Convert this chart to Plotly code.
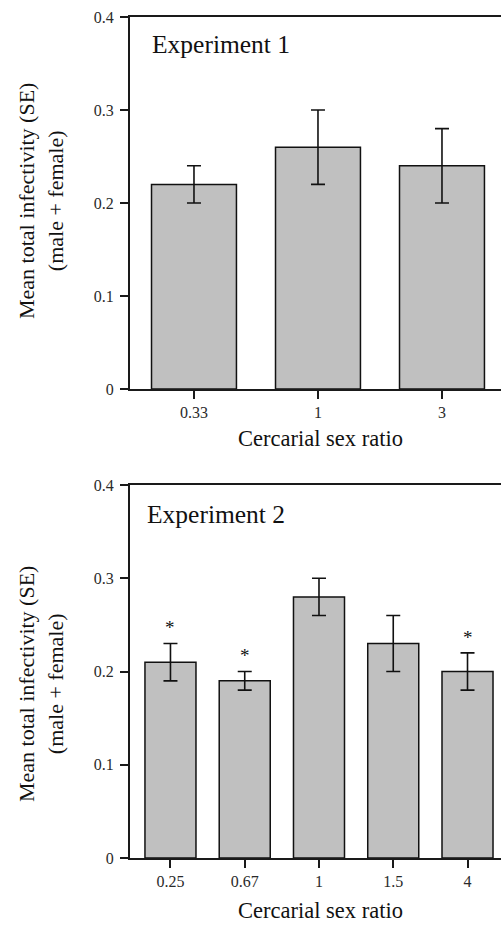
import plotly.graph_objects as go

# ---- data ----
exp1_ratio = ["0.33", "1", "3"]
exp1_mean = [0.22, 0.26, 0.24]
exp1_se = [0.02, 0.04, 0.04]

exp2_ratio = ["0.25", "0.67", "1", "1.5", "4"]
exp2_mean = [0.21, 0.19, 0.28, 0.23, 0.20]
exp2_se = [0.02, 0.01, 0.02, 0.03, 0.02]
exp2_signif = [True, True, False, False, True]

y_tickvals = [0, 0.1, 0.2, 0.3, 0.4]
y_ticktext = ["0", "0.1", "0.2", "0.3", "0.4"]

W, H = 501, 926
FONT = "Liberation Serif, Times New Roman, serif"
BAR_FILL = "#c0c0c0"
AX = "#1a1a1a"
TXT = "#111111"

fig = go.Figure()

fig.add_trace(go.Bar(
    x=exp1_ratio, y=exp1_mean, width=0.685,
    marker=dict(color=BAR_FILL, line=dict(color="#111111", width=1.5)),
    error_y=dict(type="data", array=exp1_se, symmetric=True, color="#111111",
                 thickness=1.6, width=7),
    xaxis="x", yaxis="y", showlegend=False))

fig.add_trace(go.Bar(
    x=exp2_ratio, y=exp2_mean, width=0.687,
    marker=dict(color=BAR_FILL, line=dict(color="#111111", width=1.5)),
    error_y=dict(type="data", array=exp2_se, symmetric=True, color="#111111",
                 thickness=1.6, width=7),
    xaxis="x2", yaxis="y2", showlegend=False))

def px_y(py):
    return 1 - py / H

x_dom = [130 / W, 1.0]
top_dom = [px_y(389), px_y(17)]
bot_dom = [px_y(858), px_y(485)]

axis_common = dict(showline=True, linecolor=AX, linewidth=2, ticks="outside",
                   ticklen=8, tickwidth=2, tickcolor=AX, showgrid=False,
                   zeroline=False, automargin=False,
                   tickfont=dict(family=FONT, size=16, color="#2a2a2a"))

fig.update_layout(
    width=W, height=H,
    margin=dict(l=0, r=0, t=0, b=0, pad=0),
    paper_bgcolor="white", plot_bgcolor="white",
    font=dict(family=FONT, color=TXT),
    xaxis=dict(domain=x_dom, anchor="y", type="category",
               range=[-0.516, 2.476], mirror=True, **axis_common),
    yaxis=dict(domain=top_dom, anchor="x", range=[0, 0.4],
               tickvals=y_tickvals, ticktext=y_ticktext,
               ticklabelstandoff=3, **axis_common),
    xaxis2=dict(domain=x_dom, anchor="y2", type="category",
                range=[-0.545, 4.451], mirror=True, **axis_common),
    yaxis2=dict(domain=bot_dom, anchor="x2", range=[0, 0.4],
                tickvals=y_tickvals, ticktext=y_ticktext,
                ticklabelstandoff=3, **axis_common),
)

ann = []
# panel labels
ann.append(dict(text="Experiment 1", xref="paper", yref="paper",
                x=150 / W, y=px_y(44.5), xanchor="left", yanchor="middle",
                showarrow=False, font=dict(family=FONT, size=25.5, color=TXT)))
ann.append(dict(text="Experiment 2", xref="paper", yref="paper",
                x=145 / W, y=px_y(514), xanchor="left", yanchor="middle",
                showarrow=False, font=dict(family=FONT, size=25.5, color=TXT)))
# x titles
ann.append(dict(text="Cercarial sex ratio", xref="paper", yref="paper",
                x=320 / W, y=px_y(438.5), xanchor="center", yanchor="middle",
                showarrow=False, font=dict(family=FONT, size=22.5, color=TXT)))
ann.append(dict(text="Cercarial sex ratio", xref="paper", yref="paper",
                x=320 / W, y=px_y(910), xanchor="center", yanchor="middle",
                showarrow=False, font=dict(family=FONT, size=22.5, color=TXT)))
# y titles
ytitle = "Mean total infectivity (SE)<br>(male + female)"
ann.append(dict(text=ytitle, xref="paper", yref="paper", textangle=-90,
                x=41 / W, y=px_y(201), xanchor="center", yanchor="middle",
                showarrow=False, font=dict(family=FONT, size=22, color=TXT)))
ann.append(dict(text=ytitle, xref="paper", yref="paper", textangle=-90,
                x=41 / W, y=px_y(684), xanchor="center", yanchor="middle",
                showarrow=False, font=dict(family=FONT, size=22, color=TXT)))
# significance asterisks (category index positions)
for i, (m, s, sig) in enumerate(zip(exp2_mean, exp2_se, exp2_signif)):
    if sig:
        ann.append(dict(text="*", xref="x2", yref="y2", x=i, y=m + s + 0.02,
                        xanchor="center", yanchor="middle", showarrow=False,
                        yshift=-3,
                        font=dict(family=FONT, size=19, color=TXT)))

fig.update_layout(annotations=ann)

fig.write_html("out.html",
               config={"displayModeBar": False},
               post_script="document.body.style.margin='0';")
